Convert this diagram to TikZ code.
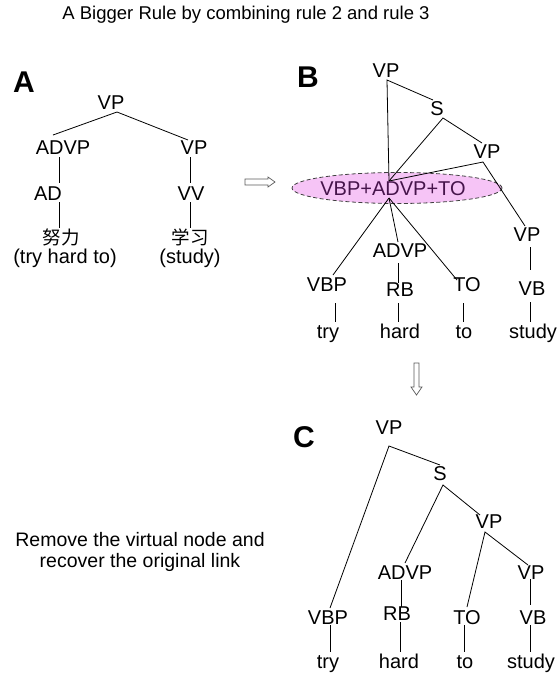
\documentclass[tikz,border=0pt]{standalone}
\usepackage{fontspec}
\setmainfont{Liberation Sans}
\newfontfamily\cjkfont{Noto Sans CJK SC}
\usetikzlibrary{shapes.geometric}
\definecolor{virtfill}{RGB}{246,196,246}
\definecolor{virttext}{RGB}{70,20,75}
\definecolor{arrowedge}{RGB}{90,90,90}
\begin{document}
\begin{tikzpicture}[x=1pt,y=-1pt,
  lab/.style={font=\fontsize{20}{23}\selectfont, inner sep=0pt, text height=14.3pt, text depth=0pt},
  hanzi/.style={font=\cjkfont\fontsize{18.5}{20}\selectfont, inner sep=0pt, text height=15.5pt, text depth=1.5pt},
  panel/.style={font=\fontsize{30}{32}\selectfont\bfseries, inner sep=0pt, text height=21.5pt, text depth=0pt},
  link/.style={draw=black, line width=0.8pt},
  virt/.style={ellipse, draw=black!75, dashed, dash pattern=on 4pt off 2.5pt, line width=0.8pt,
               fill=virtfill, minimum width=210pt, minimum height=31pt, inner sep=0pt},
  blockarrow/.style={draw=arrowedge, fill=white, line width=0.7pt, line join=miter}]
\useasboundingbox (0,0) rectangle (560,673);

% heading
\node[font=\fontsize{18.5}{21}\selectfont, inner sep=0pt, text height=13.2pt, text depth=0pt]
  (title) at (246,13) {A Bigger Rule by combining rule 2 and rule 3};

% ---------------- panel A ----------------
\node[panel] (pA) at (24,82) {A};
\node[lab] (vpA)   at (111,102) {VP};
\node[lab] (advpA) at (63,147)  {ADVP};
\node[lab] (vpA2)  at (194,147) {VP};
\node[lab] (adA)   at (48,193)  {AD};
\node[lab] (vvA)   at (191,193) {VV};
\node[hanzi] (cnA1) at (61,237)  {努力};
\node[hanzi] (cnA2) at (190,237) {学习};
\node[lab] (glA1)  at (65,256)  {(try hard to)};
\node[lab] (glA2)  at (190,256) {(study)};

\draw[link] ([shift={(-10,-12)}]advpA.center) -- ([shift={(6,10)}]vpA.center)
            -- ([shift={(-6,-7)}]vpA2.center);
\draw[link] ([shift={(-4,10)}]advpA.center) -- ([shift={(11,-10)}]adA.center);
\draw[link] ([shift={(11,9)}]adA.center) -- ([shift={(-2,-9)}]cnA1.center);
\draw[link] ([shift={(-4,10)}]vpA2.center) -- ([shift={(-1,-10)}]vvA.center);
\draw[link] ([shift={(-1,9)}]vvA.center) -- ([shift={(0,-9)}]cnA2.center);

% arrow from A to B
\draw[blockarrow] (245,179) -- (268,179) -- (268,177) -- (275,182) -- (268,187)
                  -- (268,185) -- (245,185) -- cycle;

% ---------------- panel B ----------------
\node[panel] (pB) at (308,77) {B};
\node[virt] (virt) at (397,188) {};
\node[lab] (vpB)   at (386,70)  {VP};
\node[lab] (sB)    at (437,108) {S};
\node[lab] (vpB2)  at (487,151) {VP};
\node[lab] (vpB3)  at (527,234) {VP};
\node[lab] (advpB) at (400,250) {ADVP};
\node[lab] (vbpB)  at (327,284) {VBP};
\node[lab] (rbB)   at (400,289) {RB};
\node[lab] (toB)   at (467,284) {TO};
\node[lab] (vbB)   at (532,288) {VB};
\node[lab] (tryB)  at (328,331) {try};
\node[lab] (hardB) at (400,331) {hard};
\node[lab] (toLB)  at (464,331) {to};
\node[lab] (studyB) at (533,331) {study};

\draw[link] ([shift={(-8,-7)}]virt.center) -- ([shift={(1,10)}]vpB.center)
            -- ([shift={(-4,-8)}]sB.center);
\draw[link] ([shift={(-8,-7)}]virt.center) -- ([shift={(6,10)}]sB.center)
            -- ([shift={(-5,-8)}]vpB2.center);
\draw[link] ([shift={(-8,-7)}]virt.center) -- ([shift={(-4,11)}]vpB2.center)
            -- ([shift={(-2,-8)}]vpB3.center);
\draw[link] ([shift={(3,13)}]vpB3.center) -- ([shift={(-2,-18)}]vbB.center);
\draw[link] ([shift={(-2,14)}]vbB.center) -- ([shift={(-3,-9)}]studyB.center);
\draw[link] ([shift={(-8,10)}]virt.center) -- ([shift={(6,-9)}]vbpB.center);
\draw[link] ([shift={(-8,10)}]virt.center) -- ([shift={(-2,-8)}]advpB.center);
\draw[link] ([shift={(-8,10)}]virt.center) -- ([shift={(-10,-4)}]toB.center);
\draw[link] ([shift={(-2,13)}]advpB.center) -- ([shift={(-2,-6)}]rbB.center);
\draw[link] ([shift={(8,19)}]vbpB.center) -- ([shift={(7,-9)}]tryB.center);
\draw[link] ([shift={(-2,14)}]rbB.center) -- ([shift={(-2,-9)}]hardB.center);
\draw[link] ([shift={(-4,19)}]toB.center) -- ([shift={(-1,-9)}]toLB.center);

\node[lab, font=\fontsize{20}{22}\selectfont, text=virttext] (virtlbl) at (393,188) {VBP+ADVP+TO};

% arrow from B to C
\draw[blockarrow] (414,363) -- (419,363) -- (419,387) -- (422,387) -- (416.5,395)
                  -- (411,387) -- (414,387) -- cycle;

% ---------------- panel C ----------------
\node[panel] (pC) at (304,437) {C};
\node[lab] (vpC)   at (389,427) {VP};
\node[lab] (sC)    at (440,473) {S};
\node[lab] (vpC2)  at (489,521) {VP};
\node[lab] (advpC) at (405,572) {ADVP};
\node[lab] (vpC3)  at (531,572) {VP};
\node[lab] (vbpC)  at (328,617) {VBP};
\node[lab] (rbC)   at (397,613) {RB};
\node[lab] (toC)   at (467,617) {TO};
\node[lab] (vbC)   at (533,617) {VB};
\node[lab] (tryC)  at (328,661) {try};
\node[lab] (hardC) at (399,661) {hard};
\node[lab] (toLC)  at (465,661) {to};
\node[lab] (studyC) at (531,661) {study};

\draw[link] ([shift={(2,-9)}]vbpC.center) -- ([shift={(0,19)}]vpC.center)
            -- ([shift={(0,-8)}]sC.center);
\draw[link] ([shift={(0,-9)}]advpC.center) -- ([shift={(3,12)}]sC.center)
            -- ([shift={(-9,-6)}]vpC2.center);
\draw[link] ([shift={(0,-10)}]toC.center) -- ([shift={(-4,11)}]vpC2.center)
            -- ([shift={(-3,-7)}]vpC3.center);
\draw[link] ([shift={(-4,8)}]advpC.center) -- ([shift={(4,-6)}]rbC.center);
\draw[link] ([shift={(-1,7)}]vpC3.center) -- ([shift={(-3,-12)}]vbC.center);
\draw[link] ([shift={(2,8)}]vbpC.center) -- ([shift={(2,-9)}]tryC.center);
\draw[link] ([shift={(3,9)}]rbC.center) -- ([shift={(1,-9)}]hardC.center);
\draw[link] ([shift={(-3,8)}]toC.center) -- ([shift={(-1,-9)}]toLC.center);
\draw[link] ([shift={(-3,8)}]vbC.center) -- ([shift={(-1,-9)}]studyC.center);

% explanation
\node[font=\fontsize{19.5}{21}\selectfont, align=center, inner sep=0pt] (note) at (140,552)
  {Remove the virtual node and\\recover the original link};
\end{tikzpicture}
\end{document}
